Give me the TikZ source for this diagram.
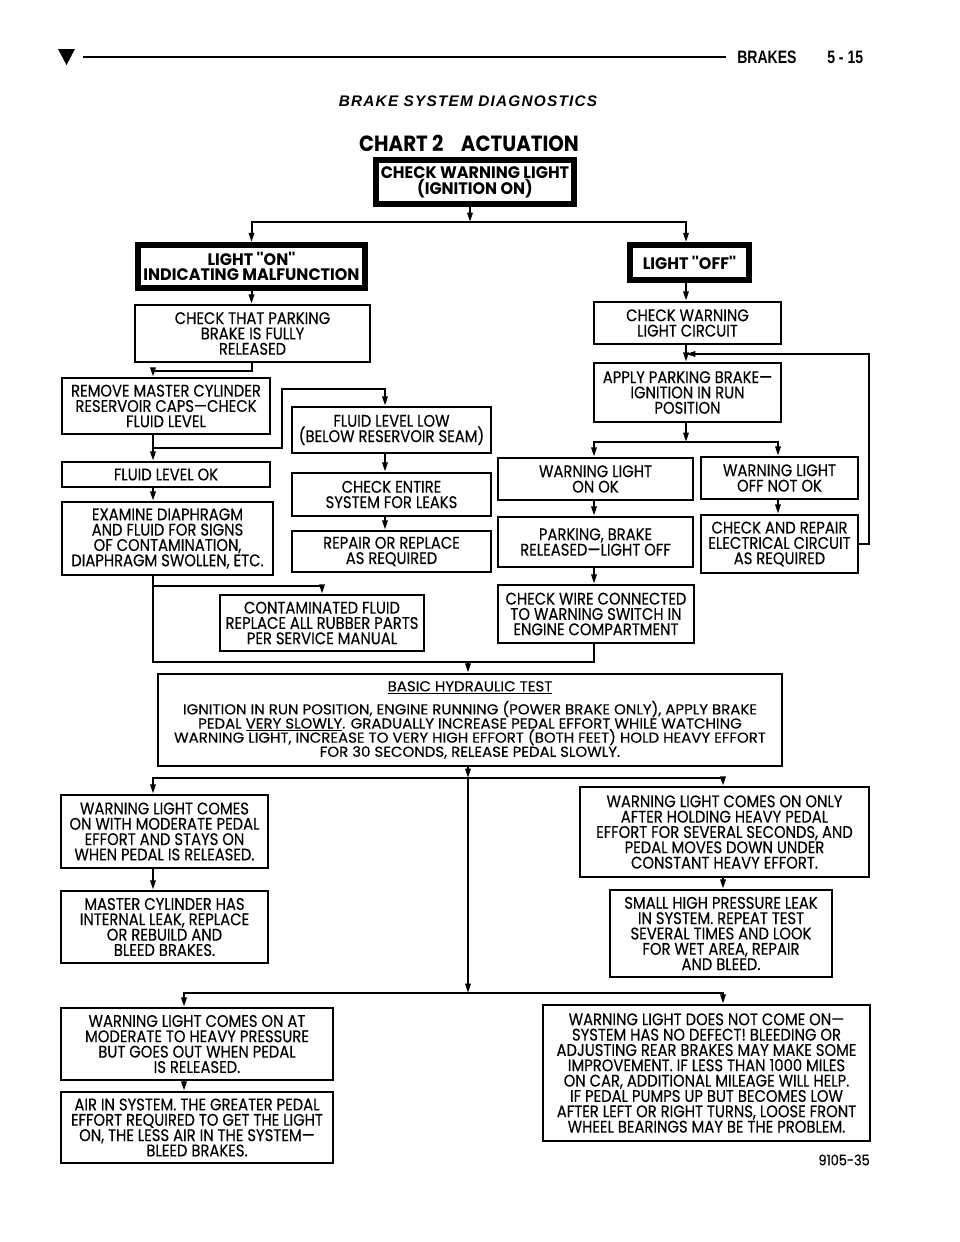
\documentclass[tikz,border=0pt]{standalone}
\usepackage{fontspec}
\setmainfont{Poppins}
\newfontfamily\bxfont[FakeStretch=0.88,FakeBold=0.3]{Poppins}
\newfontfamily\bhfont[FakeStretch=1.04,FakeBold=0.3]{Poppins}
\newfontfamily\bdfont[FakeStretch=0.96]{Poppins}
\newfontfamily\chtfont[FakeStretch=0.9]{Poppins}
\newfontfamily\hdfont[FakeStretch=0.78]{Liberation Sans}
\newfontfamily\ttlfont[LetterSpace=8]{Liberation Sans}
\usetikzlibrary{arrows.meta}
\newcommand\tightls{\lineskiplimit-20pt\relax}
\newcommand\flbox[7][]{%
  \node[box,#1,minimum width={(#4-#2)*0.75pt},minimum height={(#5-#3)*0.75pt}]
    (#6) at ({(#2+#4)/2},{(#3+#5)/2}) {#7};}
\begin{document}
\begin{tikzpicture}[x=0.75pt,y=-0.75pt,
 box/.style={draw,line width=1.9pt,inner sep=0pt,align=center,
   font={\bxfont\fontsize{12.6}{11.5}\selectfont\tightls}},
 heavybox/.style={line width=4.2pt,font={\bdfont\bfseries\fontsize{12.5}{11.8}\selectfont\tightls}},
 bhtbox/.style={font={\bhfont\fontsize{10.8}{10.6}\selectfont\tightls}},
 conn/.style={line width=1.5pt},
 arr/.style={conn,-{Triangle[length=7pt,width=4pt]}},
]
\useasboundingbox (0,0) rectangle (960,1242);
% header
\fill (58,49) -- (75,49) -- (66.5,65) -- cycle;
\draw[line width=1.5pt] (83,57) -- (726,57);
\node[anchor=west,inner sep=0pt,font=\hdfont\bfseries\fontsize{13.5}{14}\selectfont] (hb) at (737,57) {BRAKES};
\node[anchor=west,inner sep=0pt,font=\hdfont\bfseries\fontsize{13.5}{14}\selectfont] (hp) at (827,57) {5 - 15};
\node[inner sep=0pt,font=\ttlfont\bfseries\itshape\fontsize{11.5}{12}\selectfont] (ttl) at (468,101.5) {BRAKE SYSTEM DIAGNOSTICS};
\node[inner sep=0pt,font=\chtfont\bfseries\fontsize{16.5}{17}\selectfont] (cht) at (469,143) {CHART 2\hspace{0.8em}ACTUATION};
\node[anchor=east,inner sep=0pt,font=\bxfont\fontsize{11}{12}\selectfont] (fig) at (870,1160) {9105-35};

% boxes
\flbox[heavybox]{376}{160}{574}{204}{cwl}{CHECK WARNING LIGHT\\(IGNITION ON)}
\flbox[heavybox]{138}{245}{365}{288}{lon}{LIGHT ''ON''\\INDICATING MALFUNCTION}
\flbox[heavybox]{630}{245}{749}{280}{loff}{LIGHT ''OFF''}
\flbox{135}{305}{370}{362}{ctpb}{CHECK THAT PARKING\\BRAKE IS FULLY\\RELEASED}
\flbox{62}{378}{270}{434}{rmc}{REMOVE MASTER CYLINDER\\RESERVOIR CAPS—CHECK\\FLUID LEVEL}
\flbox{292}{407}{491}{453}{fll}{FLUID LEVEL LOW\\(BELOW RESERVOIR SEAM)}
\flbox{62}{462}{270}{487}{flok}{FLUID LEVEL OK}
\flbox{62}{502}{273}{575}{edfs}{EXAMINE DIAPHRAGM\\AND FLUID FOR SIGNS\\OF CONTAMINATION,\\DIAPHRAGM SWOLLEN, ETC.}
\flbox{292}{473}{491}{516}{cesl}{CHECK ENTIRE\\SYSTEM FOR LEAKS}
\flbox{292}{531}{491}{572}{rrar}{REPAIR OR REPLACE\\AS REQUIRED}
\flbox{220}{595}{424}{651}{cfrp}{CONTAMINATED FLUID\\REPLACE ALL RUBBER PARTS\\PER SERVICE MANUAL}
\flbox{594}{302}{781}{344}{cwlc}{CHECK WARNING\\LIGHT CIRCUIT}
\flbox{594}{363}{781}{422}{apb}{APPLY PARKING BRAKE—\\IGNITION IN RUN\\POSITION}
\flbox{498}{458}{693}{500}{wlon}{WARNING LIGHT\\ON OK}
\flbox{701}{457}{858}{499}{wloff}{WARNING LIGHT\\OFF NOT OK}
\flbox{498}{517}{693}{567}{pbr}{PARKING, BRAKE\\RELEASED—LIGHT OFF}
\flbox{701}{515}{858}{573}{cear}{CHECK AND REPAIR\\ELECTRICAL CIRCUIT\\AS REQUIRED}
\flbox{498}{585}{694}{643}{cwcs}{CHECK WIRE CONNECTED\\TO WARNING SWITCH IN\\ENGINE COMPARTMENT}
\flbox[bhtbox]{158}{674}{782}{766}{bht}{\underline{BASIC HYDRAULIC TEST}\\[6.7pt]IGNITION IN RUN POSITION, ENGINE RUNNING (POWER BRAKE ONLY), APPLY BRAKE\\PEDAL \underline{VERY SLOWLY}. GRADUALLY INCREASE PEDAL EFFORT WHILE WATCHING\\WARNING LIGHT, INCREASE TO VERY HIGH EFFORT (BOTH FEET) HOLD HEAVY EFFORT\\FOR 30 SECONDS, RELEASE PEDAL SLOWLY.}
\flbox{61}{795}{268}{868}{wlcm}{WARNING LIGHT COMES\\ON WITH MODERATE PEDAL\\EFFORT AND STAYS ON\\WHEN PEDAL IS RELEASED.}
\flbox{61}{891}{268}{963}{mchi}{MASTER CYLINDER HAS\\INTERNAL LEAK, REPLACE\\OR REBUILD AND\\BLEED BRAKES.}
\flbox{580}{787}{869}{877}{wlco}{WARNING LIGHT COMES ON ONLY\\AFTER HOLDING HEAVY PEDAL\\EFFORT FOR SEVERAL SECONDS, AND\\PEDAL MOVES DOWN UNDER\\CONSTANT HEAVY EFFORT.}
\flbox{610}{890}{832}{977}{shpl}{SMALL HIGH PRESSURE LEAK\\IN SYSTEM. REPEAT TEST\\SEVERAL TIMES AND LOOK\\FOR WET AREA, REPAIR\\AND BLEED.}
\flbox{61}{1008}{333}{1080}{wlmh}{WARNING LIGHT COMES ON AT\\MODERATE TO HEAVY PRESSURE\\BUT GOES OUT WHEN PEDAL\\IS RELEASED.}
\flbox{61}{1092}{333}{1163}{ais}{AIR IN SYSTEM. THE GREATER PEDAL\\EFFORT REQUIRED TO GET THE LIGHT\\ON, THE LESS AIR IN THE SYSTEM—\\BLEED BRAKES.}
\flbox{543}{1005}{870}{1141}{wldn}{WARNING LIGHT DOES NOT COME ON—\\SYSTEM HAS NO DEFECT! BLEEDING OR\\ADJUSTING REAR BRAKES MAY MAKE SOME\\IMPROVEMENT. IF LESS THAN 1000 MILES\\ON CAR, ADDITIONAL MILEAGE WILL HELP.\\IF PEDAL PUMPS UP BUT BECOMES LOW\\AFTER LEFT OR RIGHT TURNS, LOOSE FRONT\\WHEEL BEARINGS MAY BE THE PROBLEM.}

% junctions and columns
\coordinate (colA) at (153,0);
\coordinate (colB) at (385,0);
\coordinate (colC) at (184,0);
\coordinate (colD) at (723,0);
\coordinate (colR) at (686,0);
\coordinate (colP) at (594,0);
\coordinate (colQ) at (778,0);
\coordinate (j1) at (470,222);
\coordinate (j2) at (686,354);
\coordinate (k2) at (869,354);
\coordinate (j3) at (686,442);
\coordinate (j4) at (153,448);
\coordinate (k4) at (282,389);
\coordinate (j8) at (153,586);
\coordinate (j5) at (468,662);
\coordinate (j6) at (468,778);
\coordinate (j7) at (468,993);

% connectors
\draw[arr] (j1 |- cwl.south) -- (j1);
\draw[arr] (j1) -| (lon.north);
\draw[arr] (j1) -| (colR |- loff.north);
\draw[arr] (lon.south) -- (lon.south |- ctpb.north);
\draw[arr] (lon.south |- ctpb.south) -- ++(0,8) -| (colA |- rmc.north);
\draw[arr] (colA |- rmc.south) -- (colA |- flok.north);
\draw[arr] (j4) -| (k4) -| (colB |- fll.north);
\draw[arr] (colB |- fll.south) -- (colB |- cesl.north);
\draw[arr] (colB |- cesl.south) -- (colB |- rrar.north);
\draw[arr] (colA |- flok.south) -- (colA |- edfs.north);
\draw[conn] (colA |- edfs.south) |- (j5) -| (colP |- cwcs.south);
\draw[arr] (j8) -| (cfrp.north);
\draw[arr] (j5) -- (j5 |- bht.north);
\draw[arr] (colR |- loff.south) -- (colR |- cwlc.north);
\draw[arr] (colR |- cwlc.south) -- (colR |- apb.north);
\draw[arr] (cear.east) -| (k2) -- (j2);
\draw[arr] (colR |- apb.south) -- (j3);
\draw[arr] (j3) -| (colP |- wlon.north);
\draw[arr] (j3) -| (colQ |- wloff.north);
\draw[arr] (colP |- wlon.south) -- (colP |- pbr.north);
\draw[arr] (colP |- pbr.south) -- (colP |- cwcs.north);
\draw[arr] (colQ |- wloff.south) -- (colQ |- cear.north);
\draw[arr] (j5 |- bht.south) -- (j6);
\draw[arr] (j6) -| (colA |- wlcm.north);
\draw[arr] (j6) -| (colD |- wlco.north);
\draw[arr] (j6) -- (j7);
\draw[arr] (j7) -| (colC |- wlmh.north);
\draw[arr] (j7) -| (colD |- wldn.north);
\draw[arr] (colA |- wlcm.south) -- (colA |- mchi.north);
\draw[arr] (colD |- wlco.south) -- (colD |- shpl.north);
\draw[arr] (colC |- wlmh.south) -- (colC |- ais.north);
\end{tikzpicture}
\end{document}
